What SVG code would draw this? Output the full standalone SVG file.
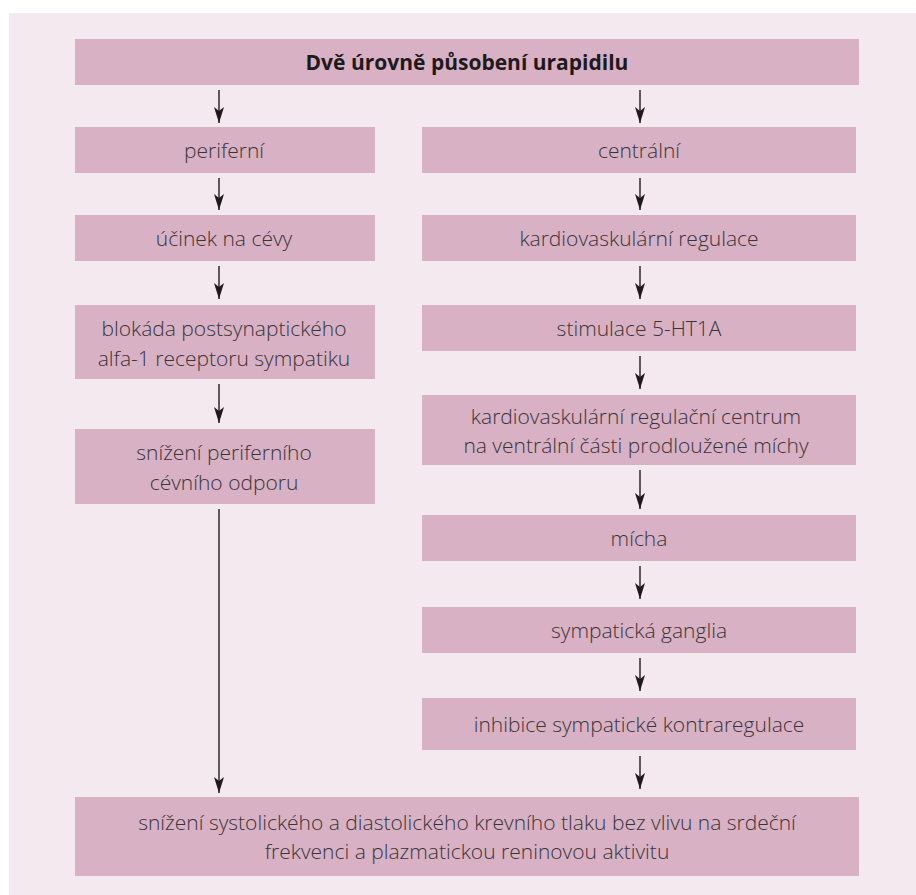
<svg xmlns="http://www.w3.org/2000/svg" width="916" height="895" viewBox="0 0 916 895">
<defs>
<style>
.bg{fill:#f4e9ee}
.box{fill:#d8b1c4}
.t{font-family:"Open Sans","Noto Sans","Liberation Sans",sans-serif;font-size:21px;font-weight:300;fill:#3a3537;text-anchor:middle}
.h{font-weight:bold;fill:#1e1a1c}
.c{stroke:#1e1a1c;stroke-width:1.4;fill:none;marker-end:url(#ah)}
</style>
<marker id="ah" markerUnits="userSpaceOnUse" viewBox="-1 -6 18 12" refX="16" refY="0" markerWidth="18" markerHeight="12" orient="auto">
<path d="M0,-5 L16,0 L0,5 L4,0 Z" fill="#1e1a1c"/>
</marker>
</defs>
<rect x="0" y="0" width="916" height="895" fill="#ffffff"/>
<rect class="bg" x="9" y="13" width="907" height="882"/>

<g id="header">
<rect class="box" x="75" y="39" width="784" height="46"/>
<text class="t h" x="467" y="70">Dvě úrovně působení urapidilu</text>
</g>

<g id="periferni">
<rect class="box" x="75" y="127" width="300" height="46"/>
<text class="t" x="224" y="158">periferní</text>
</g>
<g id="ucinek">
<rect class="box" x="75" y="215" width="300" height="46"/>
<text class="t" x="224" y="246">účinek na cévy</text>
</g>
<g id="blokada">
<rect class="box" x="75" y="305" width="300" height="74"/>
<text class="t" x="224" y="336">blokáda postsynaptického</text>
<text class="t" x="224" y="366">alfa-1 receptoru sympatiku</text>
</g>
<g id="snizeni-odporu">
<rect class="box" x="75" y="429" width="300" height="75"/>
<text class="t" x="224" y="460">snížení periferního</text>
<text class="t" x="224" y="490">cévního odporu</text>
</g>

<g id="centralni">
<rect class="box" x="422" y="127" width="434" height="46"/>
<text class="t" x="639" y="158">centrální</text>
</g>
<g id="kardio-regulace">
<rect class="box" x="422" y="215" width="434" height="46"/>
<text class="t" x="639" y="246">kardiovaskulární regulace</text>
</g>
<g id="stimulace">
<rect class="box" x="422" y="305" width="434" height="46"/>
<text class="t" x="639" y="336">stimulace 5-HT1A</text>
</g>
<g id="centrum">
<rect class="box" x="422" y="395" width="434" height="70"/>
<text class="t" x="636" y="424">kardiovaskulární regulační centrum</text>
<text class="t" x="636" y="453">na ventrální části prodloužené míchy</text>
</g>
<g id="micha">
<rect class="box" x="422" y="515" width="434" height="46"/>
<text class="t" x="639" y="546">mícha</text>
</g>
<g id="ganglia">
<rect class="box" x="422" y="607" width="434" height="46"/>
<text class="t" x="639" y="638">sympatická ganglia</text>
</g>
<g id="inhibice">
<rect class="box" x="422" y="698" width="434" height="52"/>
<text class="t" x="639" y="732">inhibice sympatické kontraregulace</text>
</g>

<g id="vysledek">
<rect class="box" x="75" y="797" width="784" height="79"/>
<text class="t" x="467" y="830">snížení systolického a diastolického krevního tlaku bez vlivu na srdeční</text>
<text class="t" x="467" y="859">frekvenci a plazmatickou reninovou aktivitu</text>
</g>

<g id="connectors">
<line class="c" x1="219" y1="90" x2="219" y2="123"/>
<line class="c" x1="640" y1="90" x2="640" y2="123"/>
<line class="c" x1="219" y1="178" x2="219" y2="210"/>
<line class="c" x1="219" y1="266" x2="219" y2="299"/>
<line class="c" x1="219" y1="384" x2="219" y2="423"/>
<line class="c" x1="219" y1="509" x2="219" y2="793"/>
<line class="c" x1="640" y1="178" x2="640" y2="210"/>
<line class="c" x1="640" y1="266" x2="640" y2="299"/>
<line class="c" x1="640" y1="356" x2="640" y2="389"/>
<line class="c" x1="640" y1="470" x2="640" y2="509"/>
<line class="c" x1="640" y1="566" x2="640" y2="599"/>
<line class="c" x1="640" y1="658" x2="640" y2="691"/>
<line class="c" x1="640" y1="756" x2="640" y2="789"/>
</g>
</svg>
